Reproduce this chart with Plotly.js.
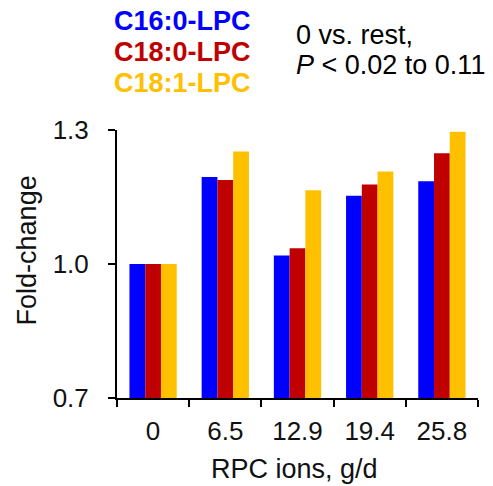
<!DOCTYPE html>
<html>
<head>
<meta charset="utf-8">
<script src="https://cdn.plot.ly/plotly-3.0.1.min.js"></script>
<style>html,body{margin:0;padding:0;background:#fff;}#chart{width:493px;height:486px;}</style>
</head>
<body>
<div id="chart"></div>
<script>
var categories = ["0", "6.5", "12.9", "19.4", "25.8"];
var seriesNames = ["C16:0-LPC", "C18:0-LPC", "C18:1-LPC"];
var c16 = [1.0, 1.195, 1.019, 1.153, 1.185];
var c18_0 = [1.0, 1.188, 1.035, 1.178, 1.248];
var c18_1 = [1.0, 1.252, 1.165, 1.207, 1.296];
var colors = ["#0000FF", "#C00000", "#FFC000"];
var yTicks = [0.7, 1.0, 1.3];

var values = [c16, c18_0, c18_1];
var traces = values.map(function (v, i) {
  return {
    type: "bar",
    name: seriesNames[i],
    x: categories,
    y: v,
    marker: { color: colors[i], line: { width: 0 } },
    showlegend: false
  };
});

var font = "Liberation Sans, Arial, sans-serif";
var L = 116.7, R = 477.7, T = 130, B = 397.7;
function px(x) { return (x - L) / (R - L); }
function py(y) { return (B - y) / (B - T); }

var annotations = [];
var legY = [20.7, 51.7, 83.3];
seriesNames.forEach(function (n, i) {
  annotations.push({
    xref: "paper", yref: "paper", x: px(182.5), y: py(legY[i]),
    xanchor: "center", yanchor: "middle", showarrow: false,
    text: "<b>" + n + "</b>",
    font: { family: font, size: 27, color: colors[i] }
  });
});
annotations.push({
  xref: "paper", yref: "paper", x: px(294), y: py(35),
  xanchor: "left", yanchor: "middle", showarrow: false,
  text: "0 vs. rest,", font: { family: font, size: 27, color: "#000" }
});
annotations.push({
  xref: "paper", yref: "paper", x: px(294), y: py(65),
  xanchor: "left", yanchor: "middle", showarrow: false,
  text: "<i>P</i> < 0.02 to 0.11", font: { family: font, size: 27, color: "#000" }
});
// axis titles
annotations.push({
  xref: "paper", yref: "paper", x: px(294), y: py(469),
  xanchor: "center", yanchor: "middle", showarrow: false,
  text: "RPC ions, g/d", font: { family: font, size: 27, color: "#111" }
});
annotations.push({
  xref: "paper", yref: "paper", x: px(27), y: py(250),
  xanchor: "center", yanchor: "middle", showarrow: false, textangle: -90,
  text: "Fold-change", font: { family: font, size: 27, color: "#111" }
});

var layout = {
  width: 493, height: 486,
  margin: { l: L, r: 493 - R, t: T, b: 486 - B, pad: 0 },
  paper_bgcolor: "#fff", plot_bgcolor: "#fff",
  barmode: "group", bargap: 0.345, bargroupgap: 0,
  font: { family: font, size: 26, color: "#111" },
  xaxis: {
    type: "category",
    showline: true, linecolor: "#000", linewidth: 2,
    ticks: "outside", tickson: "boundaries", ticklen: 7, tickwidth: 2, tickcolor: "#000",
    ticklabelstandoff: 9,
    showgrid: false, zeroline: false,
    tickfont: { family: font, size: 26, color: "#111" }
  },
  yaxis: {
    range: [0.7, 1.3],
    tickvals: yTicks, tickformat: ".1f",
    showline: true, linecolor: "#000", linewidth: 2,
    ticks: "outside", ticklen: 7, tickwidth: 2, tickcolor: "#000",
    ticklabelstandoff: 14,
    showgrid: false, zeroline: false,
    tickfont: { family: font, size: 26, color: "#111" }
  },
  annotations: annotations
};

Plotly.newPlot("chart", traces, layout, { displayModeBar: false, staticPlot: true });
</script>
</body>
</html>
